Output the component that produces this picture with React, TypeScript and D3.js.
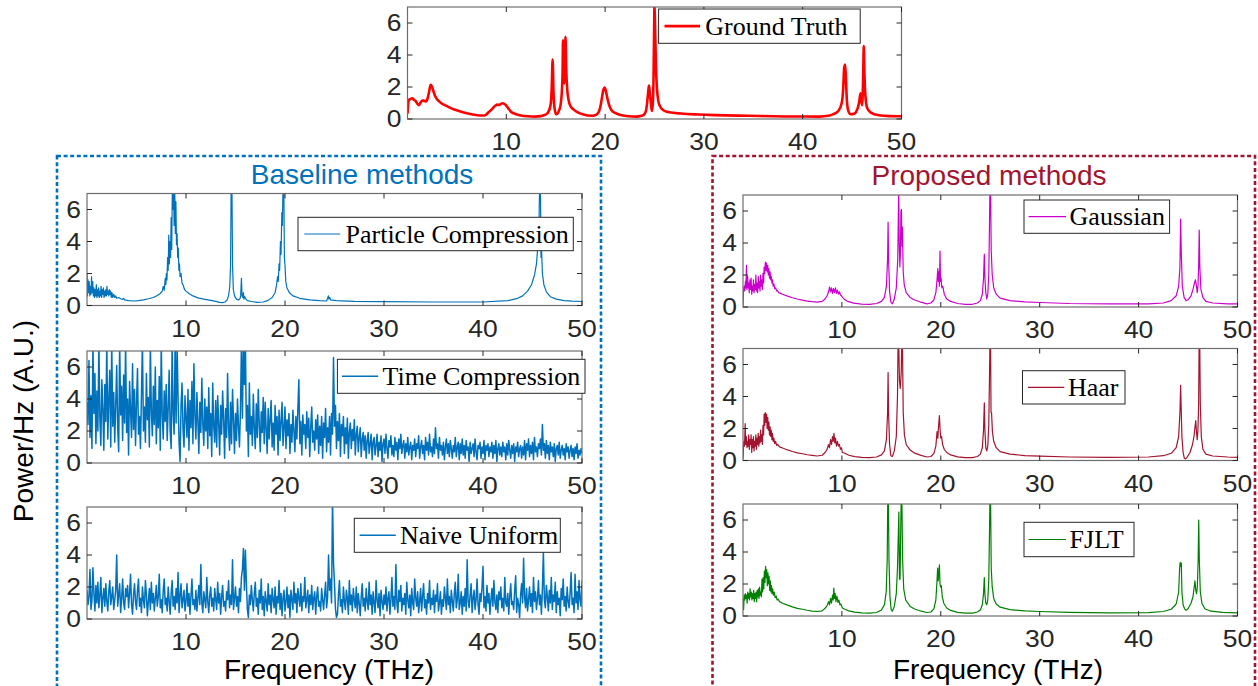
import React from "react";
import * as d3 from "d3";

type Pt = [number, number];

const xTicks = [10, 20, 30, 40, 50];
const yTicks = [0, 2, 4, 6];
const xDomain: [number, number] = [0, 50];
const yDomain: [number, number] = [0, 7];
const gridStep = 0.1;

const groundTruth: Pt[] = [
  [0, 0.34], [0.13, 1.18], [0.3, 1.25], [0.48, 1.3], [0.65, 1.2], [0.83, 1.12], [1.0, 0.95], [1.15, 0.87],
  [1.3, 1.0], [1.5, 1.16], [1.64, 1.15], [1.9, 1.1], [2.06, 1.35], [2.2, 1.75], [2.34, 2.13], [2.45, 2.05],
  [2.58, 1.82], [2.75, 1.5], [2.93, 1.29], [3.2, 1.1], [3.46, 0.97], [4.0, 0.8], [4.5, 0.65], [5.2, 0.5],
  [5.9, 0.37], [6.6, 0.28], [7.3, 0.22], [7.8, 0.22], [8.2, 0.42], [8.6, 0.65], [8.9, 0.84], [9.1, 0.9],
  [9.25, 0.88], [9.4, 0.92], [9.6, 0.98], [9.8, 0.95], [9.95, 0.87], [10.2, 0.66], [10.5, 0.44], [11.0, 0.3],
  [11.5, 0.22], [12.2, 0.17], [12.9, 0.15], [13.5, 0.18], [13.8, 0.23], [14.1, 0.32], [14.3, 0.5], [14.5, 0.95],
  [14.6, 2.0], [14.69, 3.72], [14.78, 1.6], [14.88, 0.7], [15.04, 0.3], [15.2, 0.35], [15.35, 0.55], [15.5, 0.9],
  [15.6, 1.5], [15.7, 3.0], [15.74, 4.92], [15.8, 3.4], [15.86, 2.2], [15.92, 3.2], [15.99, 5.13], [16.06, 3.2],
  [16.16, 1.9], [16.3, 1.2], [16.44, 0.87], [16.8, 0.6], [17.14, 0.44], [17.8, 0.28], [18.55, 0.2], [19.0, 0.24],
  [19.25, 0.34], [19.5, 0.7], [19.67, 1.29], [19.82, 1.8], [19.95, 1.97], [20.08, 1.75], [20.23, 1.29], [20.45, 0.8],
  [20.65, 0.55], [21.0, 0.38], [21.7, 0.23], [22.4, 0.17], [23.1, 0.15], [23.7, 0.2], [24.0, 0.32], [24.15, 0.55],
  [24.27, 1.1], [24.38, 1.8], [24.44, 2.09], [24.5, 1.8], [24.62, 1.05], [24.73, 0.5], [24.82, 0.9], [24.9, 2.5],
  [24.96, 5.5], [25.0, 7.2], [25.05, 6.0], [25.15, 3.2], [25.25, 1.9], [25.4, 1.08], [25.6, 0.75], [25.9, 0.55],
  [26.5, 0.42], [27.7, 0.34], [29.5, 0.28], [31.2, 0.24], [34.5, 0.2], [38.2, 0.16], [41.7, 0.15], [42.6, 0.2],
  [43.1, 0.3], [43.6, 0.5], [43.95, 1.0], [44.1, 1.9], [44.2, 3.2], [44.3, 3.4], [44.38, 2.4], [44.48, 1.08],
  [44.62, 0.5], [44.85, 0.3], [45.15, 0.32], [45.4, 0.44], [45.6, 0.75], [45.72, 1.08], [45.85, 1.6], [45.95, 1.1],
  [46.02, 0.87], [46.08, 1.6], [46.13, 3.0], [46.18, 4.56], [46.24, 3.0], [46.3, 1.92], [46.42, 1.0], [46.55, 0.65],
  [46.9, 0.4], [47.7, 0.23], [48.8, 0.18], [50, 0.17],
];

const particleCompression: Pt[] = [
  [0, 2.0], [0.05, 0.6], [0.1, 1.6], [0.16, 0.8], [0.22, 1.5], [0.28, 0.6], [0.34, 1.2], [0.4, 0.7],
  [0.46, 1.8], [0.52, 0.8], [0.58, 1.5], [0.64, 0.6], [0.7, 1.1], [0.76, 0.5], [0.82, 1.0], [0.88, 0.6],
  [0.94, 1.3], [1.0, 0.5], [1.06, 1.0], [1.12, 0.6], [1.18, 1.1], [1.24, 0.5], [1.3, 0.9], [1.36, 0.6],
  [1.42, 1.2], [1.48, 0.5], [1.54, 1.0], [1.6, 0.7], [1.66, 1.1], [1.72, 0.5], [1.78, 0.9], [1.84, 0.6],
  [1.9, 1.0], [1.96, 0.6], [2.02, 1.2], [2.08, 0.7], [2.14, 0.9], [2.2, 0.6], [2.26, 1.0], [2.32, 0.7],
  [2.38, 0.9], [2.45, 0.5], [2.52, 0.8], [2.6, 0.5], [2.7, 0.7], [2.8, 0.5], [2.9, 0.6], [3.0, 0.45],
  [3.2, 0.5], [3.4, 0.42], [3.6, 0.38], [3.7, 0.45], [3.8, 0.35], [4.2, 0.3], [4.7, 0.28], [5.2, 0.3],
  [5.7, 0.35], [6.2, 0.42], [6.7, 0.5], [7.1, 0.62], [7.4, 0.75], [7.6, 0.9], [7.7, 1.2], [7.8, 0.95],
  [7.9, 1.7], [7.96, 1.3], [8.02, 2.0], [8.08, 1.6], [8.14, 3.0], [8.2, 2.2], [8.26, 4.4], [8.32, 2.6],
  [8.38, 4.0], [8.44, 3.0], [8.5, 5.5], [8.56, 3.5], [8.62, 7.5], [8.68, 6.0], [8.74, 7.5], [8.8, 5.0],
  [8.86, 7.5], [8.92, 4.5], [8.98, 6.5], [9.04, 3.8], [9.1, 4.5], [9.16, 3.0], [9.22, 3.6], [9.28, 2.2],
  [9.34, 2.6], [9.4, 1.8], [9.5, 2.0], [9.6, 1.4], [9.7, 1.3], [9.85, 1.0], [10.0, 0.9], [10.3, 0.75],
  [10.7, 0.6], [11.2, 0.48], [11.8, 0.4], [12.5, 0.32], [13.0, 0.26], [13.4, 0.2], [13.7, 0.18], [13.95, 0.22],
  [14.15, 0.35], [14.3, 0.6], [14.42, 1.2], [14.5, 2.5], [14.56, 7.5], [14.64, 7.5], [14.7, 2.5], [14.78, 1.0],
  [14.9, 0.6], [15.1, 0.4], [15.3, 0.35], [15.45, 0.42], [15.52, 0.6], [15.6, 1.7], [15.66, 0.6], [15.74, 0.5],
  [15.8, 0.8], [15.86, 0.4], [15.94, 0.55], [16.05, 0.4], [16.2, 0.3], [16.6, 0.25], [17.2, 0.2], [17.8, 0.22],
  [18.3, 0.32], [18.7, 0.5], [19.0, 0.8], [19.15, 1.3], [19.25, 1.8], [19.32, 1.5], [19.4, 2.6], [19.46, 2.2],
  [19.54, 4.0], [19.6, 3.2], [19.68, 5.8], [19.74, 5.0], [19.8, 7.5], [19.88, 7.5], [19.94, 3.0], [20.0, 2.5],
  [20.08, 1.5], [20.2, 1.1], [20.45, 0.8], [20.8, 0.6], [21.5, 0.45], [22.5, 0.35], [23.5, 0.3], [24.2, 0.28],
  [24.3, 0.45], [24.38, 0.6], [24.44, 0.4], [24.52, 0.5], [24.62, 0.35], [25.2, 0.3], [27.0, 0.26], [30.0, 0.24],
  [35.0, 0.22], [40.0, 0.22], [42.5, 0.3], [43.5, 0.45], [44.0, 0.6], [44.5, 0.9], [44.9, 1.3], [45.2, 1.9],
  [45.4, 2.6], [45.55, 3.8], [45.65, 5.0], [45.72, 7.5], [45.8, 7.5], [45.86, 3.0], [45.92, 3.4], [46.0, 2.0],
  [46.15, 1.3], [46.4, 0.85], [46.8, 0.55], [47.4, 0.4], [48.2, 0.3], [49.0, 0.27], [50, 0.25],
];

// values on a uniform 0.1 THz grid, 0 ... 50 THz (one row = 1 THz)
const timeCompressionPower: number[] = [
  3.8, 2.4, 6.4, 1.6, 4.2, 0.9, 7.5, 3.1, 5.6, 1.2,
  4.5, 2.0, 7.5, 2.8, 1.1, 5.2, 3.4, 0.8, 4.9, 2.6,
  7.5, 1.5, 3.9, 5.8, 1.0, 7.5, 2.3, 4.4, 1.3, 3.6,
  6.1, 2.2, 0.7, 7.5, 3.0, 4.8, 1.4, 5.5, 2.5, 7.5,
  1.9, 4.0, 0.5, 5.1, 3.3, 1.6, 6.2, 2.1, 4.6, 1.1,
  3.7, 5.9, 1.8, 2.9, 0.9, 4.3, 7.5, 2.0, 3.5, 1.3,
  5.6, 2.7, 4.1, 1.0, 7.5, 3.2, 1.7, 4.8, 2.4, 6.0,
  1.2, 3.9, 2.2, 5.4, 0.8, 7.5, 3.0, 1.5, 4.5, 2.6,
  4.9, 1.4, 3.4, 5.8, 2.0, 0.9, 7.5, 3.1, 1.8, 7.5,
  2.5, 7.5, 4.0, 1.3, 0.1, 3.6, 5.0, 2.1, 1.0, 4.2,
  2.8, 1.6, 4.6, 0.8, 3.9, 2.2, 5.1, 1.2, 6.2, 3.0,
  1.5, 4.4, 2.6, 0.6, 3.8, 1.9, 5.3, 2.4, 1.1, 4.0,
  2.0, 3.5, 0.9, 4.7, 1.7, 3.1, 0.4, 5.0, 2.3, 1.3,
  3.9, 1.0, 4.2, 2.5, 0.5, 3.6, 1.8, 4.5, 2.8, 0.3,
  3.4, 1.6, 5.6, 2.2, 0.8, 3.8, 1.2, 4.6, 2.7, 0.6,
  3.1, 1.4, 4.0, 2.3, 1.0, 3.3, 7.5, 2.8, 7.5, 4.9,
  7.5, 2.0, 3.6, 0.4, 5.0, 1.8, 2.9, 1.1, 4.3, 2.2,
  0.9, 3.7, 1.6, 4.6, 2.4, 0.7, 3.2, 1.9, 4.1, 1.2,
  3.8, 2.1, 0.6, 3.4, 1.5, 2.7, 3.9, 1.0, 2.5, 0.8,
  3.6, 1.8, 2.9, 0.5, 3.3, 1.4, 2.6, 3.8, 1.1, 2.2,
  3.5, 0.9, 2.7, 1.7, 3.1, 0.6, 2.4, 1.3, 3.3, 2.0,
  0.7, 2.9, 1.5, 3.4, 5.2, 1.2, 2.6, 0.5, 3.0, 1.8,
  2.4, 0.9, 3.2, 1.6, 2.8, 0.4, 2.2, 3.5, 1.3, 2.0,
  0.8, 2.7, 1.5, 3.0, 0.6, 2.3, 1.1, 2.9, 0.3, 2.5,
  1.6, 3.4, 0.7, 2.2, 1.3, 2.9, 0.5, 3.1, 1.8, 6.6,
  2.3, 3.6, 0.9, 2.6, 1.4, 3.1, 0.4, 2.4, 1.7, 2.9,
  0.6, 2.2, 1.2, 2.8, 0.3, 1.9, 2.5, 0.9, 2.1, 1.4,
  2.7, 0.5, 1.8, 2.3, 0.7, 1.6, 2.2, 0.4, 1.5, 1.9,
  0.8, 1.7, 0.3, 1.4, 1.9, 0.6, 1.2, 1.8, 0.2, 1.3,
  1.6, 0.5, 1.1, 1.8, 0.4, 1.3, 0.8, 1.7, 0.1, 1.2,
  1.5, 0.6, 1.8, 0.9, 0.3, 1.4, 1.0, 1.7, 0.5, 1.1,
  0.4, 1.6, 0.8, 1.3, 0.2, 1.5, 0.9, 1.8, 0.6, 1.1,
  1.4, 0.3, 1.2, 0.7, 1.6, 0.5, 1.0, 1.3, 0.2, 1.1,
  0.8, 1.5, 0.4, 1.2, 0.9, 1.7, 0.3, 1.0, 1.4, 0.6,
  1.1, 0.2, 1.6, 0.8, 1.3, 0.5, 1.8, 0.7, 1.0, 0.4,
  1.5, 0.6, 2.2, 0.9, 1.2, 0.3, 1.6, 0.8, 1.1, 0.5,
  1.3, 0.2, 1.0, 1.5, 0.6, 1.2, 0.4, 1.4, 0.9, 0.3,
  1.1, 0.7, 1.6, 0.4, 1.0, 1.3, 0.2, 1.2, 0.6, 1.5,
  0.5, 1.1, 0.3, 1.4, 0.8, 1.0, 0.1, 1.3, 0.6, 0.9,
  1.2, 0.4, 1.5, 0.7, 0.2, 1.1, 0.9, 1.3, 0.3, 1.0,
  0.6, 1.4, 0.2, 1.1, 0.8, 1.2, 0.4, 1.0, 0.7, 1.3,
  0.3, 1.1, 0.6, 1.4, 0.1, 0.9, 1.2, 0.5, 1.0, 0.4,
  1.3, 0.7, 1.0, 0.2, 1.2, 0.5, 1.4, 0.8, 0.3, 1.1,
  0.6, 1.2, 0.1, 1.0, 0.7, 1.3, 0.4, 0.9, 1.1, 0.3,
  1.0, 0.5, 1.4, 0.2, 1.2, 0.8, 1.5, 0.4, 1.1, 0.6,
  1.3, 0.2, 1.6, 0.7, 1.0, 0.4, 1.2, 0.9, 1.5, 0.5,
  2.4, 0.8, 1.2, 0.3, 1.4, 0.6, 1.1, 0.2, 1.3, 0.7,
  1.0, 0.4, 1.2, 0.1, 0.9, 1.1, 0.5, 1.3, 0.3, 0.8,
  1.1, 0.5, 0.9, 0.2, 1.2, 0.7, 1.0, 0.3, 0.8, 1.1,
  0.4, 0.9, 0.2, 1.0, 0.6, 1.2, 0.3, 0.8, 0.5, 0.9,
  0.6,
];

const naiveUniformPower: number[] = [
  1.8, 0.9, 1.4, 3.1, 0.6, 1.2, 3.2, 1.6, 0.5, 2.1,
  1.0, 2.3, 0.7, 1.5, 2.6, 0.4, 1.3, 1.9, 0.8, 2.2,
  1.1, 0.5, 1.7, 2.4, 0.9, 1.4, 2.0, 0.6, 1.2, 1.8,
  4.0, 0.8, 1.5, 2.2, 0.4, 1.3, 2.5, 1.0, 0.6, 1.9,
  1.4, 2.1, 0.7, 1.6, 2.8, 0.9, 0.3, 1.5, 2.2, 1.1,
  0.6, 1.8, 2.5, 0.8, 1.3, 0.4, 2.0, 1.2, 0.7, 2.4,
  1.5, 0.2, 1.1, 1.9, 0.6, 2.3, 1.0, 1.6, 0.5, 1.3,
  2.1, 0.8, 1.4, 2.8, 0.7, 1.2, 0.4, 1.8, 2.5, 0.9,
  1.3, 0.5, 2.0, 1.1, 0.3, 1.6, 2.4, 0.8, 1.4, 0.6,
  1.9, 1.0, 2.9, 0.4, 1.5, 2.2, 0.7, 1.2, 1.8, 0.5,
  1.1, 2.2, 0.8, 1.6, 0.3, 1.4, 2.5, 0.9, 1.2, 0.6,
  1.8, 0.5, 1.3, 2.1, 0.9, 3.4, 1.0, 0.4, 1.7, 1.2,
  0.7, 2.6, 1.1, 0.4, 1.5, 2.0, 0.8, 1.3, 0.5, 1.9,
  1.2, 0.6, 2.3, 1.0, 1.6, 0.3, 1.4, 2.1, 0.8, 1.1,
  0.5, 1.7, 1.2, 2.4, 0.7, 1.5, 0.9, 3.7, 0.6, 1.3,
  2.0, 0.8, 1.4, 0.4, 1.9, 1.1, 2.6, 3.1, 4.4, 1.8,
  4.3, 2.2, 0.6, 0.1, 1.5, 0.9, 2.1, 1.2, 0.5, 1.6,
  2.3, 0.8, 1.3, 0.3, 1.8, 1.0, 2.5, 0.6, 1.4, 0.2,
  1.7, 1.1, 0.5, 2.2, 0.9, 1.5, 0.4, 1.9, 1.2, 0.7,
  2.0, 0.3, 1.4, 1.0, 2.4, 0.6, 1.6, 0.2, 1.3, 1.8,
  0.5, 1.1, 2.0, 0.7, 1.5, 0.1, 1.8, 1.2, 0.6, 2.3,
  1.0, 1.6, 0.4, 1.9, 1.3, 0.8, 2.2, 0.5, 1.4, 1.1,
  2.6, 0.7, 1.2, 1.8, 0.4, 1.5, 0.9, 2.1, 0.6, 1.3,
  1.7, 0.3, 1.4, 2.0, 0.8, 1.1, 0.5, 1.9, 1.2, 0.6,
  1.5, 2.3, 0.7, 1.3, 4.0, 1.8, 2.5, 1.0, 7.5, 3.5,
  2.2, 0.6, 0.1, 0.3, 1.5, 2.4, 0.8, 1.2, 0.4, 2.0,
  1.1, 0.6, 1.8, 1.3, 0.3, 2.4, 0.9, 1.5, 0.5, 1.9,
  1.2, 0.7, 2.0, 0.4, 1.6, 1.0, 0.2, 1.4, 2.2, 0.8,
  1.3, 0.5, 1.9, 1.1, 0.6, 2.3, 0.9, 1.5, 0.3, 1.7,
  1.0, 0.4, 2.4, 1.2, 0.7, 1.6, 0.2, 1.8, 1.1, 0.6,
  1.5, 0.9, 2.0, 0.5, 1.3, 1.7, 0.3, 1.2, 2.6, 0.8,
  1.4, 0.6, 3.4, 1.0, 0.4, 1.8, 1.1, 2.1, 0.5, 1.3,
  0.9, 1.6, 0.3, 2.3, 1.2, 0.7, 1.5, 0.2, 1.9, 1.0,
  0.6, 2.5, 1.3, 0.8, 1.7, 0.4, 1.1, 1.9, 0.5, 1.4,
  2.2, 0.7, 1.2, 0.3, 1.6, 1.0, 2.4, 0.6, 1.3, 0.9,
  1.8, 0.4, 1.5, 1.1, 2.2, 0.5, 1.0, 1.7, 0.3, 1.2,
  0.8, 2.0, 1.3, 0.6, 2.5, 0.9, 1.4, 0.4, 1.8, 1.1,
  0.5, 1.6, 2.3, 0.7, 1.2, 2.8, 0.6, 1.0, 1.7, 0.3,
  1.4, 0.8, 1.9, 0.5, 3.7, 1.1, 0.7, 1.5, 2.2, 0.4,
  1.3, 1.8, 0.6, 1.2, 2.5, 0.9, 0.3, 1.6, 1.1, 2.0,
  3.3, 0.7, 1.4, 0.5, 2.1, 1.0, 1.6, 0.3, 1.2, 1.9,
  0.8, 2.4, 1.1, 0.6, 1.5, 0.4, 1.7, 1.2, 2.0, 0.7,
  1.3, 0.5, 2.6, 1.0, 0.8, 1.6, 0.3, 1.4, 2.2, 0.9,
  1.1, 0.6, 1.8, 2.7, 0.4, 1.3, 0.9, 0.1, 1.5, 2.2,
  1.0, 3.8, 1.4, 0.7, 1.9, 0.5, 1.2, 2.0, 0.8, 1.6,
  0.4, 2.6, 1.1, 1.7, 0.6, 1.3, 2.4, 0.9, 1.5, 0.3,
  1.9, 4.2, 1.2, 0.7, 2.1, 1.4, 0.5, 1.8, 1.0, 2.6,
  0.6, 1.5, 1.1, 2.3, 0.4, 1.7, 0.9, 1.3, 0.2, 1.9,
  1.2, 2.5, 0.8, 1.4, 0.5, 2.0, 1.1, 0.7, 1.6, 2.9,
  0.9, 1.3, 0.4, 2.8, 1.0, 1.7, 0.6, 2.4, 1.2, 0.8,
  2.4,
];

const gaussian: Pt[] = [
  [0, 0.1], [0.05, 1.1], [0.12, 1.3], [0.18, 1.0], [0.25, 1.6], [0.3, 1.2], [0.35, 2.6], [0.4, 1.1],
  [0.47, 1.9], [0.52, 1.2], [0.58, 1.5], [0.63, 0.9], [0.7, 1.7], [0.76, 1.1], [0.82, 1.8], [0.88, 0.8],
  [0.95, 1.3], [1.0, 1.0], [1.06, 1.7], [1.12, 0.9], [1.18, 1.4], [1.25, 1.1], [1.3, 2.0], [1.36, 1.0],
  [1.42, 1.5], [1.48, 0.9], [1.55, 1.9], [1.6, 1.2], [1.66, 1.6], [1.72, 1.0], [1.78, 2.0], [1.84, 1.3],
  [1.9, 1.7], [1.96, 1.1], [2.02, 2.1], [2.08, 1.5], [2.14, 2.5], [2.2, 2.1], [2.26, 2.8], [2.32, 2.3],
  [2.38, 2.75], [2.44, 2.2], [2.5, 2.6], [2.56, 2.0], [2.62, 2.4], [2.68, 1.8], [2.74, 2.2], [2.8, 1.7],
  [2.86, 1.9], [2.92, 1.5], [2.98, 1.7], [3.05, 1.3], [3.12, 1.45], [3.2, 1.15], [3.3, 1.2], [3.4, 1.0],
  [3.5, 1.02], [3.6, 0.9], [3.8, 0.85], [4.0, 0.8], [4.5, 0.68], [5.0, 0.58], [5.5, 0.5], [6.0, 0.43],
  [6.5, 0.37], [7.0, 0.33], [7.5, 0.3], [8.0, 0.35], [8.3, 0.5], [8.5, 0.7], [8.65, 0.95], [8.75, 1.25],
  [8.85, 0.95], [8.95, 1.2], [9.05, 0.85], [9.15, 1.15], [9.25, 0.9], [9.35, 1.2], [9.45, 0.85], [9.55, 1.05],
  [9.65, 0.8], [9.75, 0.95], [9.85, 0.75], [9.95, 0.7], [10.2, 0.5], [10.6, 0.35], [11.2, 0.24], [12.0, 0.18],
  [12.8, 0.17], [13.5, 0.22], [14.0, 0.35], [14.3, 0.6], [14.5, 1.3], [14.62, 3.0], [14.67, 5.3], [14.72, 3.0],
  [14.82, 1.0], [14.95, 0.3], [15.1, 0.2], [15.3, 0.5], [15.5, 1.2], [15.65, 3.0], [15.74, 7.3], [15.8, 4.0],
  [15.86, 2.5], [15.92, 3.5], [15.97, 6.0], [16.02, 6.1], [16.07, 3.8], [16.12, 5.0], [16.2, 2.2], [16.3, 1.4],
  [16.5, 0.9], [16.9, 0.6], [17.3, 0.45], [18.0, 0.3], [18.6, 0.2], [19.0, 0.25], [19.3, 0.45], [19.5, 0.9],
  [19.62, 1.7], [19.7, 2.4], [19.75, 1.6], [19.8, 2.2], [19.86, 1.3], [19.92, 3.5], [19.97, 1.6], [20.03, 1.8],
  [20.1, 1.2], [20.2, 1.3], [20.35, 0.8], [20.6, 0.5], [21.0, 0.35], [21.7, 0.22], [22.5, 0.17], [23.2, 0.17],
  [23.7, 0.25], [24.0, 0.4], [24.2, 0.8], [24.32, 1.8], [24.4, 3.3], [24.46, 1.8], [24.55, 0.9], [24.65, 0.5],
  [24.75, 0.8], [24.85, 2.0], [24.92, 5.0], [24.97, 7.5], [25.03, 7.5], [25.1, 3.5], [25.2, 2.0], [25.35, 1.2],
  [25.6, 0.8], [26.0, 0.55], [27.0, 0.4], [28.5, 0.32], [30.0, 0.28], [33.0, 0.22], [37.0, 0.2], [41.0, 0.2],
  [42.5, 0.25], [43.3, 0.4], [43.8, 0.7], [44.05, 1.3], [44.18, 2.5], [44.25, 5.5], [44.32, 3.3], [44.42, 1.3],
  [44.6, 0.6], [44.8, 0.4], [45.0, 0.45], [45.3, 0.7], [45.5, 1.1], [45.65, 1.5], [45.75, 1.7], [45.85, 1.3],
  [45.93, 0.9], [46.0, 1.3], [46.07, 2.5], [46.13, 4.8], [46.19, 2.5], [46.3, 1.1], [46.5, 0.6], [46.8, 0.35],
  [47.5, 0.25], [49.0, 0.2], [50, 0.19],
];

const haar: Pt[] = [
  [0, 0.1], [0.08, 1.2], [0.15, 0.9], [0.22, 2.3], [0.28, 1.0], [0.34, 1.5], [0.4, 0.8], [0.46, 1.2],
  [0.52, 0.9], [0.58, 1.6], [0.64, 0.7], [0.7, 1.3], [0.76, 1.0], [0.82, 1.6], [0.88, 0.5], [0.94, 1.3],
  [1.0, 0.8], [1.06, 1.5], [1.12, 0.6], [1.18, 1.2], [1.24, 0.9], [1.3, 1.6], [1.36, 0.7], [1.42, 1.4],
  [1.48, 1.0], [1.54, 1.7], [1.6, 0.9], [1.66, 1.5], [1.72, 1.1], [1.78, 1.9], [1.84, 1.2], [1.9, 1.6],
  [1.96, 1.0], [2.02, 2.2], [2.08, 1.6], [2.14, 2.9], [2.2, 2.2], [2.26, 3.0], [2.32, 2.4], [2.38, 2.9],
  [2.44, 2.0], [2.5, 2.7], [2.56, 1.9], [2.62, 2.4], [2.68, 1.6], [2.74, 2.1], [2.8, 1.5], [2.86, 1.9],
  [2.92, 1.3], [2.98, 1.7], [3.05, 1.2], [3.12, 1.4], [3.2, 1.05], [3.3, 1.2], [3.4, 0.95], [3.5, 1.0],
  [3.7, 0.85], [4.0, 0.78], [4.5, 0.66], [5.0, 0.56], [5.5, 0.48], [6.0, 0.42], [6.5, 0.36], [7.0, 0.32],
  [7.5, 0.28], [8.0, 0.33], [8.3, 0.5], [8.5, 0.7], [8.65, 1.0], [8.75, 0.8], [8.85, 1.3], [8.95, 1.0],
  [9.05, 1.5], [9.12, 1.2], [9.2, 1.7], [9.28, 1.1], [9.35, 1.4], [9.45, 0.9], [9.55, 1.2], [9.65, 0.9],
  [9.75, 1.0], [9.85, 0.7], [9.95, 0.8], [10.05, 0.5], [10.3, 0.45], [10.7, 0.33], [11.3, 0.24], [12.0, 0.19],
  [12.8, 0.18], [13.5, 0.22], [14.0, 0.35], [14.3, 0.6], [14.5, 1.3], [14.62, 3.0], [14.67, 5.5], [14.72, 3.0],
  [14.82, 1.0], [14.95, 0.3], [15.1, 0.25], [15.3, 0.6], [15.5, 1.5], [15.62, 4.0], [15.68, 7.5], [15.74, 7.5],
  [15.82, 5.0], [15.9, 4.5], [16.0, 5.5], [16.06, 7.5], [16.12, 7.5], [16.2, 3.0], [16.32, 1.6], [16.5, 1.0],
  [16.9, 0.65], [17.3, 0.48], [18.0, 0.32], [18.6, 0.22], [19.0, 0.25], [19.3, 0.45], [19.5, 0.9], [19.62, 1.8],
  [19.7, 1.4], [19.78, 2.2], [19.86, 2.8], [19.92, 2.0], [20.0, 1.4], [20.08, 1.5], [20.18, 1.0], [20.35, 0.7],
  [20.6, 0.5], [21.0, 0.35], [21.7, 0.23], [22.5, 0.18], [23.2, 0.18], [23.7, 0.25], [24.0, 0.4], [24.2, 0.8],
  [24.32, 1.9], [24.4, 3.6], [24.46, 1.9], [24.55, 0.8], [24.65, 0.6], [24.75, 0.9], [24.85, 2.2], [24.92, 5.0],
  [24.97, 7.5], [25.03, 7.5], [25.08, 3.0], [25.13, 3.0], [25.22, 1.8], [25.35, 1.2], [25.6, 0.8], [26.0, 0.55],
  [27.0, 0.4], [28.5, 0.3], [30.0, 0.27], [33.0, 0.22], [37.0, 0.2], [41.0, 0.22], [42.5, 0.3], [43.3, 0.45],
  [43.8, 0.8], [44.05, 1.5], [44.18, 3.0], [44.25, 4.7], [44.3, 3.4], [44.38, 1.5], [44.5, 0.5], [44.62, 0.15],
  [44.75, 0.1], [44.9, 0.2], [45.2, 0.5], [45.45, 1.0], [45.6, 1.5], [45.72, 2.2], [45.78, 2.5], [45.85, 1.8],
  [45.93, 1.3], [46.0, 1.9], [46.07, 3.5], [46.12, 7.5], [46.18, 7.5], [46.24, 3.5], [46.34, 1.5], [46.5, 0.7],
  [46.8, 0.4], [47.5, 0.28], [49.0, 0.22], [50, 0.2],
];

const fjlt: Pt[] = [
  [0, 1.1], [0.06, 0.4], [0.12, 1.3], [0.18, 1.0], [0.24, 1.4], [0.3, 1.1], [0.36, 1.3], [0.42, 0.8],
  [0.48, 1.5], [0.54, 1.1], [0.6, 1.4], [0.66, 1.0], [0.72, 1.7], [0.78, 1.2], [0.84, 1.5], [0.9, 1.0],
  [0.96, 1.4], [1.02, 1.1], [1.08, 1.6], [1.14, 0.9], [1.2, 1.4], [1.26, 1.1], [1.32, 1.5], [1.38, 0.9],
  [1.44, 1.6], [1.5, 1.2], [1.56, 1.7], [1.62, 1.1], [1.68, 1.8], [1.74, 1.3], [1.8, 1.5], [1.86, 1.2],
  [1.92, 2.3], [1.98, 1.5], [2.04, 2.4], [2.1, 1.7], [2.16, 2.8], [2.22, 2.1], [2.28, 3.1], [2.34, 2.4],
  [2.4, 2.9], [2.46, 1.9], [2.52, 2.7], [2.58, 2.0], [2.64, 2.5], [2.7, 1.6], [2.76, 2.2], [2.82, 1.5],
  [2.88, 1.9], [2.94, 1.4], [3.0, 1.7], [3.08, 1.3], [3.16, 1.5], [3.25, 1.15], [3.35, 1.25], [3.45, 1.0],
  [3.55, 1.05], [3.7, 0.9], [4.0, 0.8], [4.5, 0.68], [5.0, 0.57], [5.5, 0.48], [6.0, 0.42], [6.5, 0.36],
  [7.0, 0.31], [7.5, 0.28], [8.0, 0.32], [8.3, 0.48], [8.5, 0.65], [8.65, 0.9], [8.75, 0.7], [8.85, 1.1],
  [8.95, 0.8], [9.05, 1.3], [9.12, 1.0], [9.18, 1.75], [9.25, 1.1], [9.32, 1.4], [9.4, 0.9], [9.5, 1.25],
  [9.6, 0.85], [9.7, 1.0], [9.8, 0.7], [9.9, 0.75], [10.05, 0.5], [10.3, 0.42], [10.7, 0.32], [11.3, 0.24],
  [12.0, 0.19], [12.8, 0.18], [13.5, 0.22], [14.0, 0.38], [14.3, 0.7], [14.48, 1.5], [14.58, 3.5], [14.64, 7.5],
  [14.7, 7.5], [14.76, 3.5], [14.86, 1.2], [14.98, 0.4], [15.1, 0.3], [15.3, 0.6], [15.5, 1.4], [15.62, 3.0],
  [15.7, 5.0], [15.76, 6.5], [15.82, 2.3], [15.88, 2.3], [15.94, 5.0], [16.0, 7.5], [16.06, 7.5], [16.14, 3.5],
  [16.25, 1.7], [16.45, 1.0], [16.9, 0.6], [17.3, 0.45], [18.0, 0.3], [18.6, 0.22], [19.0, 0.25], [19.3, 0.45],
  [19.5, 1.0], [19.6, 2.0], [19.68, 3.0], [19.74, 2.2], [19.8, 2.6], [19.86, 3.2], [19.92, 2.0], [19.98, 1.8],
  [20.05, 1.9], [20.15, 1.2], [20.3, 0.8], [20.6, 0.5], [21.0, 0.35], [21.7, 0.23], [22.5, 0.18], [23.2, 0.18],
  [23.7, 0.25], [24.0, 0.38], [24.2, 0.7], [24.32, 1.4], [24.4, 2.4], [24.46, 1.4], [24.55, 0.8], [24.65, 0.7],
  [24.75, 1.0], [24.85, 2.2], [24.92, 5.0], [24.97, 7.5], [25.03, 7.5], [25.1, 3.0], [25.2, 1.8], [25.35, 1.1],
  [25.6, 0.75], [26.0, 0.55], [27.0, 0.4], [28.5, 0.32], [30.0, 0.28], [33.0, 0.23], [37.0, 0.2], [41.0, 0.21],
  [42.5, 0.28], [43.3, 0.42], [43.8, 0.75], [44.05, 1.5], [44.15, 3.0], [44.2, 3.35], [44.27, 3.1], [44.32, 3.3],
  [44.38, 1.5], [44.5, 0.7], [44.65, 0.45], [44.8, 0.35], [45.0, 0.45], [45.3, 0.8], [45.5, 1.2], [45.62, 1.8],
  [45.7, 2.2], [45.78, 1.6], [45.86, 1.4], [45.94, 1.8], [46.02, 3.5], [46.08, 6.0], [46.14, 3.5], [46.24, 1.5],
  [46.4, 0.8], [46.7, 0.45], [47.3, 0.3], [48.5, 0.23], [50, 0.2],
];

const onGrid = (vals: number[]): Pt[] => vals.map((v, i) => [i * gridStep, v]);

const TICK_FONT = "'Liberation Sans', Arial, sans-serif";
const LABEL_FONT = "'Liberation Sans', Arial, sans-serif";
const LEGEND_FONT = "'Liberation Serif', 'Times New Roman', serif";
const AXIS_COLOR = "#262626";

type PanelProps = {
  id: string;
  left: number;
  right: number;
  top: number;
  bottom: number;
  data: Pt[];
  color: string;
  lw: number;
  smooth: boolean;
  label: string;
  legend: { x: number; y: number; w: number; h: number; l0: number; l1: number; t: number };
};

function Panel(p: PanelProps) {
  const x = d3.scaleLinear().domain(xDomain).range([p.left, p.right]);
  const y = d3.scaleLinear().domain(yDomain).range([p.bottom, p.top]);
  const line = d3
    .line<Pt>()
    .x((d) => x(d[0]))
    .y((d) => y(d[1]))
    .curve(p.smooth ? d3.curveMonotoneX : d3.curveLinear);
  const tl = 5;
  const lg = p.legend;
  const cy = lg.y + lg.h / 2;
  return (
    <g>
      <defs>
        <clipPath id={`clip-${p.id}`}>
          <rect x={p.left} y={p.top} width={p.right - p.left} height={p.bottom - p.top} />
        </clipPath>
      </defs>
      <rect x={p.left} y={p.top} width={p.right - p.left} height={p.bottom - p.top} fill="#fff" />
      <path
        d={line(p.data) || ""}
        fill="none"
        stroke={p.color}
        strokeWidth={p.lw}
        strokeLinejoin="round"
        clipPath={`url(#clip-${p.id})`}
      />
      <rect
        x={p.left}
        y={p.top}
        width={p.right - p.left}
        height={p.bottom - p.top}
        fill="none"
        stroke="#6e6e6e"
        strokeWidth={1.2}
      />
      {xTicks.map((t) => (
        <g key={`xt${t}`}>
          <line x1={x(t)} x2={x(t)} y1={p.bottom} y2={p.bottom - tl} stroke={AXIS_COLOR} strokeWidth={1} />
          <line x1={x(t)} x2={x(t)} y1={p.top} y2={p.top + tl} stroke={AXIS_COLOR} strokeWidth={1} />
          <text
            transform={`translate(${x(t)},${p.bottom + 31}) scale(1.15,1)`}
            textAnchor="middle"
            fontFamily={TICK_FONT}
            fontSize={23}
            fill={AXIS_COLOR}
          >
            {t}
          </text>
        </g>
      ))}
      {yTicks.map((t) => (
        <g key={`yt${t}`}>
          <line x1={p.left} x2={p.left + tl} y1={y(t)} y2={y(t)} stroke={AXIS_COLOR} strokeWidth={1} />
          <line x1={p.right} x2={p.right - tl} y1={y(t)} y2={y(t)} stroke={AXIS_COLOR} strokeWidth={1} />
          <text
            transform={`translate(${p.left - 6},${y(t) + 8.3}) scale(1.15,1)`}
            textAnchor="end"
            fontFamily={TICK_FONT}
            fontSize={23}
            fill={AXIS_COLOR}
          >
            {t}
          </text>
        </g>
      ))}
      <rect x={lg.x} y={lg.y} width={lg.w} height={lg.h} fill="#fff" stroke={AXIS_COLOR} strokeWidth={1} />
      <line x1={lg.l0} x2={lg.l1} y1={cy} y2={cy} stroke={p.color} strokeWidth={Math.min(p.lw, 2.6)} />
      <text x={lg.t} y={cy + 8.6} fontFamily={LEGEND_FONT} fontSize={26} fill="#000">
        {p.label}
      </text>
    </g>
  );
}

const BLUE = "#0072BD";
const CRIMSON = "#A2142F";

export default function App() {
  return (
    <svg width={1258} height={686} style={{ display: "block", position: "absolute", left: 0, top: 0 }}>
      <rect x={0} y={0} width={1258} height={686} fill="#fff" />

      <rect x={57} y={156} width={544} height={560} fill="none" stroke={BLUE} strokeWidth={2.6} strokeDasharray="4 2.6" />
      <rect x={712.5} y={156} width={542.5} height={560} fill="none" stroke={CRIMSON} strokeWidth={2.6} strokeDasharray="4 2.6" />

      <Panel
        id="gt"
        left={407.5}
        right={901.5}
        top={7}
        bottom={119}
        data={groundTruth}
        color="#FF0000"
        lw={2.6}
        smooth={true}
        label="Ground Truth"
        legend={{ x: 658.6, y: 9, w: 201.6, h: 34.3, l0: 664.5, l1: 700, t: 705.3 }}
      />

      <text x={362} y={184} textAnchor="middle" fontFamily={LABEL_FONT} fontSize={28} fill={BLUE}>
        Baseline methods
      </text>
      <text x={989} y={185} textAnchor="middle" fontFamily={LABEL_FONT} fontSize={28} fill={CRIMSON}>
        Proposed methods
      </text>

      <Panel
        id="pc"
        left={87}
        right={582}
        top={193.5}
        bottom={305.5}
        data={particleCompression}
        color={BLUE}
        lw={1.2}
        smooth={false}
        label="Particle Compression"
        legend={{ x: 298, y: 217.3, w: 275.3, h: 33.4, l0: 304.3, l1: 340.2, t: 345.5 }}
      />
      <Panel
        id="tc"
        left={87}
        right={582}
        top={351}
        bottom={463}
        data={onGrid(timeCompressionPower)}
        color={BLUE}
        lw={1.5}
        smooth={false}
        label="Time Compression"
        legend={{ x: 337.4, y: 359.3, w: 247.6, h: 34, l0: 342, l1: 378.2, t: 382.5 }}
      />
      <Panel
        id="nu"
        left={87}
        right={582}
        top={507}
        bottom={619}
        data={onGrid(naiveUniformPower)}
        color={BLUE}
        lw={1.5}
        smooth={false}
        label="Naive Uniform"
        legend={{ x: 354.3, y: 518.3, w: 206, h: 34, l0: 359.6, l1: 395.8, t: 400 }}
      />

      <Panel
        id="ga"
        left={743}
        right={1237.5}
        top={195}
        bottom={307}
        data={gaussian}
        color="#CC00CC"
        lw={1.2}
        smooth={false}
        label="Gaussian"
        legend={{ x: 1024, y: 200, w: 145.6, h: 33.3, l0: 1028.6, l1: 1066, t: 1069.6 }}
      />
      <Panel
        id="ha"
        left={743}
        right={1237.5}
        top={348.5}
        bottom={460.5}
        data={haar}
        color={CRIMSON}
        lw={1.2}
        smooth={false}
        label="Haar"
        legend={{ x: 1022.5, y: 370.7, w: 102.5, h: 33.3, l0: 1027.9, l1: 1064.3, t: 1067.9 }}
      />
      <Panel
        id="fj"
        left={743}
        right={1237.5}
        top={504}
        bottom={616}
        data={fjlt}
        color="#008000"
        lw={1.2}
        smooth={false}
        label="FJLT"
        legend={{ x: 1024, y: 522.3, w: 110, h: 34.4, l0: 1028.6, l1: 1066, t: 1069.6 }}
      />

      <text
        transform="translate(33,421) rotate(-90)"
        textAnchor="middle"
        fontFamily={LABEL_FONT}
        fontSize={28}
        fill="#000"
      >
        Power/Hz (A.U.)
      </text>
      <text x={329} y={679} textAnchor="middle" fontFamily={LABEL_FONT} fontSize={28} fill="#000">
        Frequency (THz)
      </text>
      <text x={998} y={679} textAnchor="middle" fontFamily={LABEL_FONT} fontSize={28} fill="#000">
        Frequency (THz)
      </text>
    </svg>
  );
}
